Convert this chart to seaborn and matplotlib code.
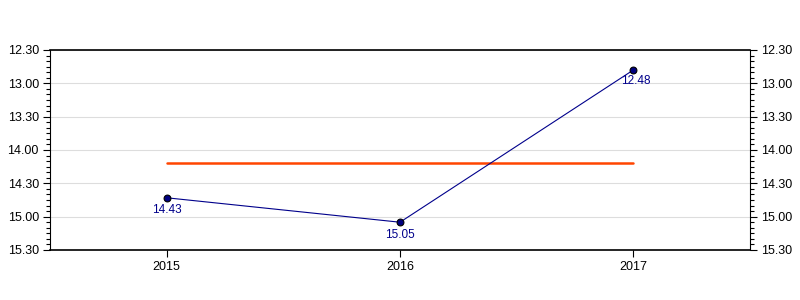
import matplotlib
matplotlib.use("Agg")
import matplotlib.pyplot as plt
import matplotlib.ticker as mticker
import seaborn as sns
import pandas as pd

years = ["2015", "2016", "2017"]
times = ["14.43", "15.05", "12.48"]          # minutes.seconds
average = ["14.12", "14.12", "14.12"]        # reference line
ytick_labels = ["12.30", "13.00", "13.30", "14.00", "14.30", "15.00", "15.30"]


def to_sec(s):
    m, sec = s.split(".")
    return int(m) * 60 + int(sec)


def fmt(v, pos=None):
    v = int(round(v))
    return f"{v // 60}.{v % 60:02d}"


df = pd.DataFrame({"year": years, "t": [to_sec(t) for t in times],
                   "avg": [to_sec(a) for a in average]})
df["x"] = range(len(df))

sns.set_theme(style="white")
plt.rcParams["font.family"] = ["Liberation Sans", "DejaVu Sans"]

fig = plt.figure(figsize=(8, 3), dpi=100)
ax = fig.add_axes([50 / 800, 50 / 300, 700 / 800, 200 / 300])

sns.lineplot(data=df, x="x", y="avg", ax=ax, color="#FF4500", linewidth=1.8, zorder=2)
sns.lineplot(data=df, x="x", y="t", ax=ax, color="#00008B", linewidth=0.8, zorder=3)
sns.scatterplot(data=df, x="x", y="t", ax=ax, color="#000080", edgecolor="black",
                linewidth=0.8, s=24, zorder=4)

offsets = [(0, -9), (0, -9), (2, -8)]
for (_, r), off in zip(df.iterrows(), offsets):
    ax.annotate(fmt(r["t"]), (r["x"], r["t"]), xytext=off, textcoords="offset points",
                ha="center", va="center", fontsize=8.5, color="#00008B")

yt = [to_sec(t) for t in ytick_labels]
ax.set_ylim(yt[-1], yt[0])
ax.set_xlim(-0.5, 2.5)
ax.set_yticks(yt)
ax.set_yticklabels(ytick_labels)
ax.yaxis.set_minor_locator(mticker.MultipleLocator(5))
ax.set_xticks(df["x"])
ax.set_xticklabels(years)
ax.set_xlabel("")
ax.set_ylabel("")

ax.grid(axis="y", which="major", color="#DDDDDD", linewidth=0.8)
ax.set_axisbelow(True)
for side in ["top", "bottom"]:
    ax.spines[side].set_color("black")
    ax.spines[side].set_linewidth(1.2)
for side in ["left", "right"]:
    ax.spines[side].set_visible(False)

ax.tick_params(axis="y", which="major", left=True, right=True, labelleft=True, labelright=True,
               length=5, width=0.8, color="black", labelsize=9, labelcolor="black", pad=3)
ax.tick_params(axis="y", which="minor", left=True, right=True, length=3, width=0.8, color="black")
ax.tick_params(axis="x", which="major", bottom=True, length=5, width=0.8, color="black",
               labelsize=9, labelcolor="black", pad=3)

ax.axvline(-0.5, color="black", linewidth=0.8, clip_on=False)
ax.axvline(2.5, color="black", linewidth=0.8, clip_on=False)

fig.savefig("out.png", dpi=100)
